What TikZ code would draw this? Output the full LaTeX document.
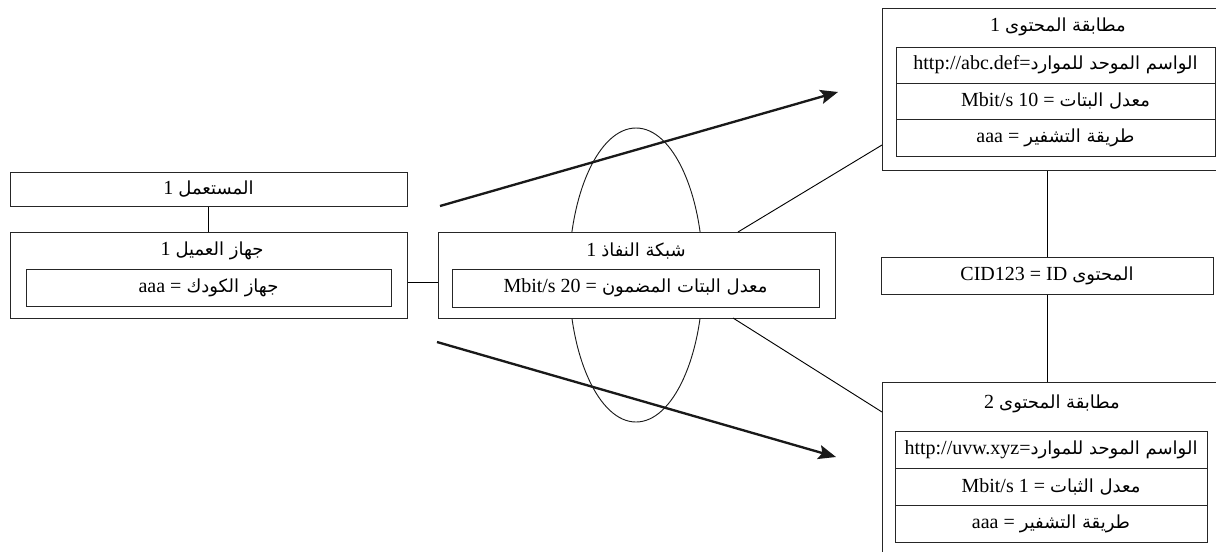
\documentclass[tikz,border=0pt]{standalone}
\usepackage{fontspec}
\setmainfont{Liberation Serif}
\newfontfamily\arabicfont[Script=Arabic,Scale=0.9]{DejaVu Sans}
\TeXXeTstate=1
\usetikzlibrary{arrows.meta,fit,calc}
\newcommand\AR[1]{{\arabicfont #1}}
\newcommand\LT[1]{\beginL #1\endL{}}
\tikzset{
  box/.style={draw=black!85, line width=0.6pt, fill=white, inner sep=0pt},
  txt/.style={inner sep=0pt, font=\fontsize{12}{14}\selectfont},
  link/.style={draw=black, line width=0.55pt},
  flow/.style={draw=black!90, line width=1.4pt,
    -{Stealth[length=10.5pt, width=8.5pt, inset=2pt]}},
  cloud/.style={draw=black!90, line width=0.55pt}
}
\begin{document}
\begin{tikzpicture}[x=0.6pt, y=-0.6pt]
\useasboundingbox (0,0) rectangle (1216,551);

% access network ellipse, partly hidden behind the access box
\draw[cloud] (636,275) ellipse [x radius=67, y radius=147];

% user and client device
\node[box, fit={(10,172)(407,206)}] (user) {};
\node[txt] at (user.center) {\beginR\AR{المستعمل} 1\endR};
\node[box, fit={(10,232)(407,318)}] (client) {};
\node[txt] at (212,251) {\beginR\AR{جهاز العميل} 1\endR};
\node[box, fit={(26,269)(391,306)}] (codec) {};
\node[txt] at (codec.center) {\beginR\AR{جهاز الكودك} = \LT{aaa}\endR};

% access network
\node[box, fit={(438,232)(835,318)}] (acc) {};
\node[txt] at (636,251) {\beginR\AR{شبكة النفاذ} 1\endR};
\node[box, fit={(452,269)(819,307)}] (rate) {};
\node[txt] at (rate.center) {\beginR\AR{معدل البتات المضمون} = 20 Mbit/s\endR};

% content match 1
\node[box, fit={(882,8)(1240,170)}] (c1) {};
\node[txt] at (1058,27) {\beginR\AR{مطابقة المحتوى} 1\endR};
\node[box, fit={(896,47)(1215,83)}] (c1a) {};
\node[txt] at (c1a.center) {\beginR\AR{الواسم الموحد للموارد}=\LT{http://abc.def}\endR};
\node[box, fit={(896,83)(1215,119)}] (c1b) {};
\node[txt] at (c1b.center) {\beginR\AR{معدل البتات} = 10 Mbit/s\endR};
\node[box, fit={(896,119)(1215,156)}] (c1c) {};
\node[txt] at (c1c.center) {\beginR\AR{طريقة التشفير} = \LT{aaa}\endR};

% content identifier
\node[box, fit={(881,257)(1213,294)}] (cid) {};
\node[txt] at (cid.center) {\beginR\AR{المحتوى} ID = CID123\endR};

% content match 2
\node[box, fit={(882,382)(1240,570)}] (c2) {};
\node[txt] at (1052,404) {\beginR\AR{مطابقة المحتوى} 2\endR};
\node[box, fit={(895,431)(1207,468)}] (c2a) {};
\node[txt] at (c2a.center) {\beginR\AR{الواسم الموحد للموارد}=\LT{http://uvw.xyz}\endR};
\node[box, fit={(895,468)(1207,505)}] (c2b) {};
\node[txt] at (c2b.center) {\beginR\AR{معدل الثبات} = 1 Mbit/s\endR};
\node[box, fit={(895,505)(1207,542)}] (c2c) {};
\node[txt] at (c2c.center) {\beginR\AR{طريقة التشفير} = \LT{aaa}\endR};

% plain connectors
\draw[link] (user.south) -- (client.north);
\draw[link] ($(client.east)+(0,7)$) -- ($(acc.west)+(0,7)$);
\draw[link] (cid.north) -- (cid.north |- c1.south);
\draw[link] (cid.south) -- (cid.south |- c2.north);
\coordinate (accTop) at (738,232);
\coordinate (c1Side) at (882,145);
\coordinate (accBot) at (733,318);
\coordinate (c2Side) at (882,412);
\draw[link] (accTop) -- (c1Side);
\draw[link] (accBot) -- (c2Side);

% content flows
\coordinate (upFrom) at (440,206);
\coordinate (upTo) at (838,92);
\coordinate (downFrom) at (437,342);
\coordinate (downTo) at (836,457);
\draw[flow] (upFrom) -- (upTo);
\draw[flow] (downFrom) -- (downTo);
\end{tikzpicture}
\end{document}
